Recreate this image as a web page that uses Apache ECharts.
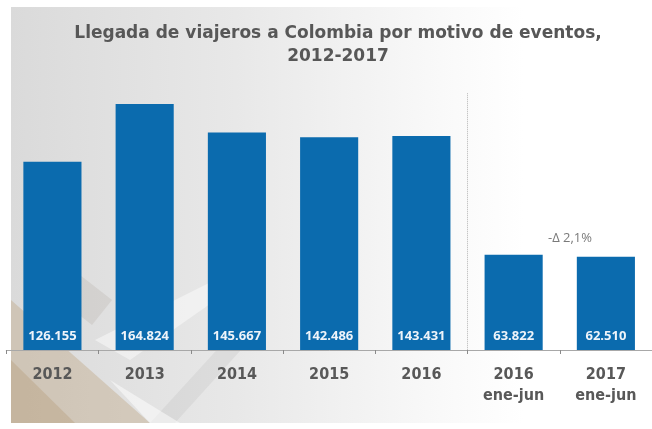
<!DOCTYPE html>
<html><head><meta charset="utf-8">
<script src="https://cdn.jsdelivr.net/npm/echarts@6/dist/echarts.min.js"></script>
<style>html,body{margin:0;padding:0;background:#fff}#c{width:652px;height:429px}</style>
</head><body><div id="c"></div>
<script>
var categories = ['2012', '2013', '2014', '2015', '2016', '2016\nene-jun', '2017\nene-jun'];
var values = [126155, 164824, 145667, 142486, 143431, 63822, 62510];
var titleLines = ['Llegada de viajeros a Colombia por motivo de eventos,', '2012-2017'];
var changeLabel = '-\u0394 2,1%';
var separatorIndex = 5;       // boundary between annual and semester data
var separatorTop = 172000;    // dotted line upper end (value units)

function fmt(v){ return String(v).replace(/\B(?=(\d{3})+(?!\d))/g, '.'); }

var chart = echarts.init(document.getElementById('c'), null, {renderer:'canvas'});
chart.setOption({
  animation: false,
  backgroundColor: '#ffffff',
  graphic: [
    { type:'rect', z:-10, shape:{x:11,y:7,width:641,height:416},
      style:{ fill: new echarts.graphic.LinearGradient(0,0,1,0,[
        {offset:0,color:'#dadada'},{offset:0.35,color:'#e8e8e8'},{offset:0.65,color:'#f8f8f8'},{offset:0.8,color:'#ffffff'},{offset:1,color:'#ffffff'}]) } },
    { type:'polygon', z:-9, shape:{points:[[11,300],[150,423],[11,423]]},
      style:{ fill:'rgba(190,165,130,0.4)' } },
    { type:'polygon', z:-9, shape:{points:[[11,360],[75,423],[11,423]]},
      style:{ fill:'rgba(175,145,105,0.3)' } },
    { type:'polygon', z:-9, shape:{points:[[80,275],[112,300],[92,325],[60,300]]},
      style:{ fill:'rgba(170,160,150,0.22)' } },
    { type:'polygon', z:-9, shape:{points:[[95,340],[215,280],[230,290],[130,360]]},
      style:{ fill:'rgba(255,255,255,0.45)' } },
    { type:'polygon', z:-9, shape:{points:[[150,423],[235,330],[250,340],[175,423]]},
      style:{ fill:'rgba(160,160,160,0.16)' } },
    { type:'polygon', z:-9, shape:{points:[[110,380],[180,423],[150,423]]},
      style:{ fill:'rgba(255,255,255,0.5)' } },
    { type:'text', x:338, y:22, z:5,
      style:{ text: titleLines.join('\n'), fill:'#575757', font:'bold 17px "DejaVu Sans"', align:'center', lineHeight:23 } },
    { type:'text', x:570, y:238, z:5,
      style:{ text: changeLabel, fill:'#7a7a7a', font:'13px "Open Sans"', align:'center', verticalAlign:'middle' } }
  ],
  grid: { left: 6.3, right: -10.7, top: 81.3, bottom: 79, containLabel:false },
  xAxis: [{
    type:'category', data: categories, boundaryGap:true,
    axisLine:{ show:true, lineStyle:{ color:'#a8a8a8', width:1 } },
    axisTick:{ show:true, length:4, lineStyle:{ color:'#8a8a8a' } },
    axisLabel:{ interval:0, color:'#585858', fontFamily:'"DejaVu Sans Condensed","DejaVu Sans",sans-serif', fontWeight:'bold', fontSize:16, lineHeight:21, margin:14 },
    splitLine:{ show:false }
  }, {
    type:'value', min:0, max:categories.length, show:false, position:'bottom'
  }],
  yAxis: { type:'value', min:0, max:180000, show:false, splitLine:{show:false} },
  series: [{
    type:'bar', data: values, barWidth:'63%', xAxisIndex:0,
    itemStyle:{ color:'#0b6bae' },
    label:{ show:true, position:'insideBottom', distance:7, color:'#eef4fa', fontFamily:'"Open Sans"', fontWeight:'bold', fontSize:13,
      formatter:function(p){ return fmt(p.value); } }
  }, {
    type:'line', xAxisIndex:1, data:[], silent:true,
    markLine:{ symbol:['none','none'], silent:true, label:{show:false},
      lineStyle:{ color:'#b5b5b5', type:'dotted', width:1 },
      data:[[{coord:[separatorIndex, separatorTop]},{coord:[separatorIndex, 0]}]] }
  }]
});
</script></body></html>
